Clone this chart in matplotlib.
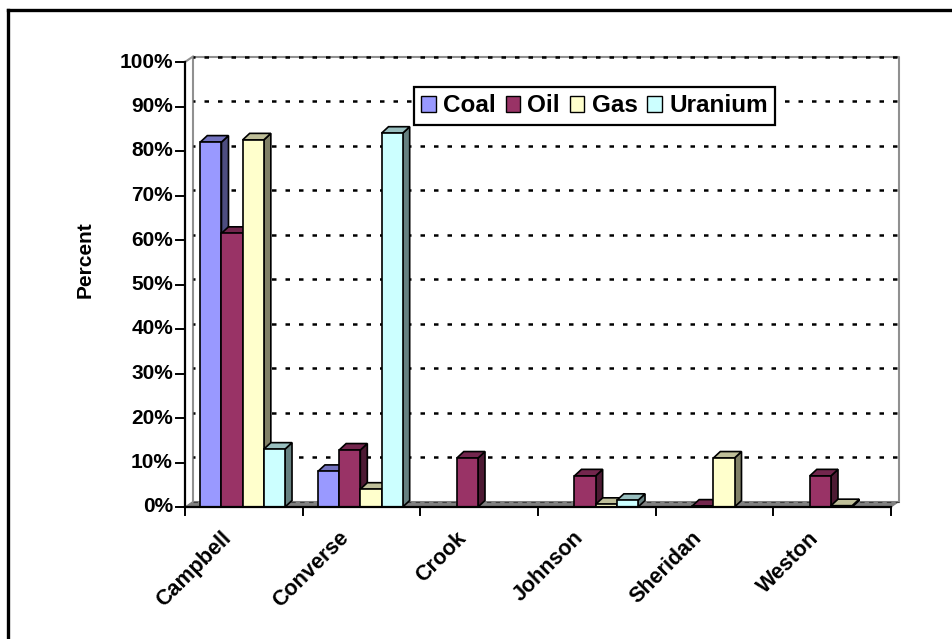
import numpy as np
import matplotlib
matplotlib.use("Agg")
import matplotlib.pyplot as plt
from matplotlib.patches import Rectangle, Polygon
from matplotlib.lines import Line2D
from matplotlib.patches import Patch

# ---- data ----
categories = ["Campbell", "Converse", "Crook", "Johnson", "Sheridan", "Weston"]
series_names = ["Coal", "Oil", "Gas", "Uranium"]
coal = [82, 8, np.nan, np.nan, np.nan, np.nan]
oil = [61.5, 12.8, 11, 7, 0.2, 7]
gas = [82.5, 4, np.nan, 0.6, 11, 0.3]
uranium = [13, 84, np.nan, 1.5, np.nan, np.nan]
yticks = [0, 10, 20, 30, 40, 50, 60, 70, 80, 90, 100]
ytick_labels = ["0%", "10%", "20%", "30%", "40%", "50%", "60%", "70%", "80%", "90%", "100%"]

front_cols = ["#9999FF", "#993366", "#FFFFCC", "#CCFFFF"]
side_cols = ["#4D4D80", "#4D1A33", "#808066", "#668080"]
top_cols = ["#7373BF", "#73264D", "#BFBF99", "#99BFBF"]

W, H = 953, 639
fig = plt.figure(figsize=(W / 100, H / 100), dpi=100)
FONT = "Liberation Sans"

# axes: x 0..6 -> px 185..891 ; y 0..100 -> px 507..62
L, R, T, B = 185, 891, 62, 507
ax = fig.add_axes([L / W, 1 - B / H, (R - L) / W, (B - T) / H])
ax.set_xlim(0, 6)
ax.set_ylim(0, 100)
ax.axis("off")

pxx = 6 / (R - L)      # data units per px in x
pxy = 100 / (B - T)    # data units per px in y

# wall depth offset
wdx, wdy = 8 * pxx, 5.5 * pxy
# bar depth offset
bdx, bdy = 7 * pxx, 6.5 * pxy

# floor
floor = Polygon([(0, 0), (6, 0), (6 + wdx, wdy), (wdx, wdy)], closed=True,
                facecolor="#808080", edgecolor="#808080", lw=0.8, clip_on=False, zorder=1)
ax.add_patch(floor)
ax.plot([wdx, 6 + wdx], [wdy, wdy], color="#404040", lw=0.8, ls=(0, (4, 4)), clip_on=False, zorder=1.5)

# back wall outline
ax.plot([wdx, wdx, 6 + wdx, 6 + wdx], [wdy, 100 + wdy, 100 + wdy, wdy],
        color="#909090", lw=1.5, clip_on=False, zorder=1)
# side wall top edge
ax.plot([0, wdx], [100, 100 + wdy], color="#909090", lw=1.5, clip_on=False, zorder=1)

# gridlines on back wall
for yv in yticks[1:]:
    ax.plot([wdx, 6 + wdx], [yv + wdy, yv + wdy], color="black", lw=1.8,
            ls=(1, (1.8, 3.6)), clip_on=False, zorder=2)

# bars
series = [coal, oil, gas, uranium]
bw = 0.18
start = 0.13
z = 3
for i in range(len(categories)):
    for j, vals in enumerate(series):
        v = vals[i]
        if v is None or np.isnan(v):
            continue
        x0 = i + start + j * bw
        x1 = x0 + bw
        side = Polygon([(x1, 0), (x1 + bdx, bdy), (x1 + bdx, v + bdy), (x1, v)], closed=True,
                       facecolor=side_cols[j], edgecolor="black", lw=1.2, zorder=z, clip_on=False)
        top = Polygon([(x0, v), (x1, v), (x1 + bdx, v + bdy), (x0 + bdx, v + bdy)], closed=True,
                      facecolor=top_cols[j], edgecolor="black", lw=1.2, zorder=z, clip_on=False)
        front = Rectangle((x0, 0), bw, v, facecolor=front_cols[j], edgecolor="black",
                          lw=1.2, zorder=z + 0.1, clip_on=False)
        ax.add_patch(side)
        ax.add_patch(top)
        ax.add_patch(front)
        z += 0.2

# front axes
ax.plot([0, 0], [0, 100], color="black", lw=1.6, clip_on=False, zorder=10)
ax.plot([0, 6], [0, 0], color="black", lw=1.6, clip_on=False, zorder=10)
for yv, lab in zip(yticks, ytick_labels):
    ax.plot([-9 * pxx, 0], [yv, yv], color="black", lw=1.4, clip_on=False, zorder=10)
    ax.text(-12 * pxx, yv, lab, ha="right", va="center", fontsize=15,
            fontweight="bold", family=FONT)
for k in range(len(categories) + 1):
    ax.plot([k, k], [0, -8 * pxy], color="black", lw=1.4, clip_on=False, zorder=10)
for i, c in enumerate(categories):
    ax.text(i + 0.5 - 16 * pxx, -28 * pxy, c, rotation=45, rotation_mode="anchor",
            ha="right", va="center", fontsize=15.5, fontweight="bold", family=FONT)

fig.text(85 / W, 1 - 260 / H, "Percent", rotation=90, ha="center", va="center",
         fontsize=15, fontweight="bold", family=FONT)

# legend
handles = [Patch(facecolor=front_cols[j], edgecolor="black", lw=1.0) for j in range(4)]
leg = fig.legend(handles, series_names, loc="center", bbox_to_anchor=(594.5 / W, 1 - 106 / H),
                 ncol=4, frameon=True, fancybox=False, edgecolor="black", framealpha=1,
                 prop={"family": FONT, "weight": "bold", "size": 17.5},
                 handlelength=0.6, handleheight=0.6, handletextpad=0.3,
                 columnspacing=0.4, borderpad=0.3)
leg.get_frame().set_linewidth(1.6)

# outer frame (extends beyond right/bottom edges)
fig.add_artist(Line2D([8.5 / W, 1.01], [1 - 9.5 / H, 1 - 9.5 / H], color="black", lw=2.4,
                      transform=fig.transFigure))
fig.add_artist(Line2D([8.5 / W, 8.5 / W], [1 - 9.5 / H, -0.01], color="black", lw=2.4,
                      transform=fig.transFigure))

fig.savefig("out.png", dpi=100)
